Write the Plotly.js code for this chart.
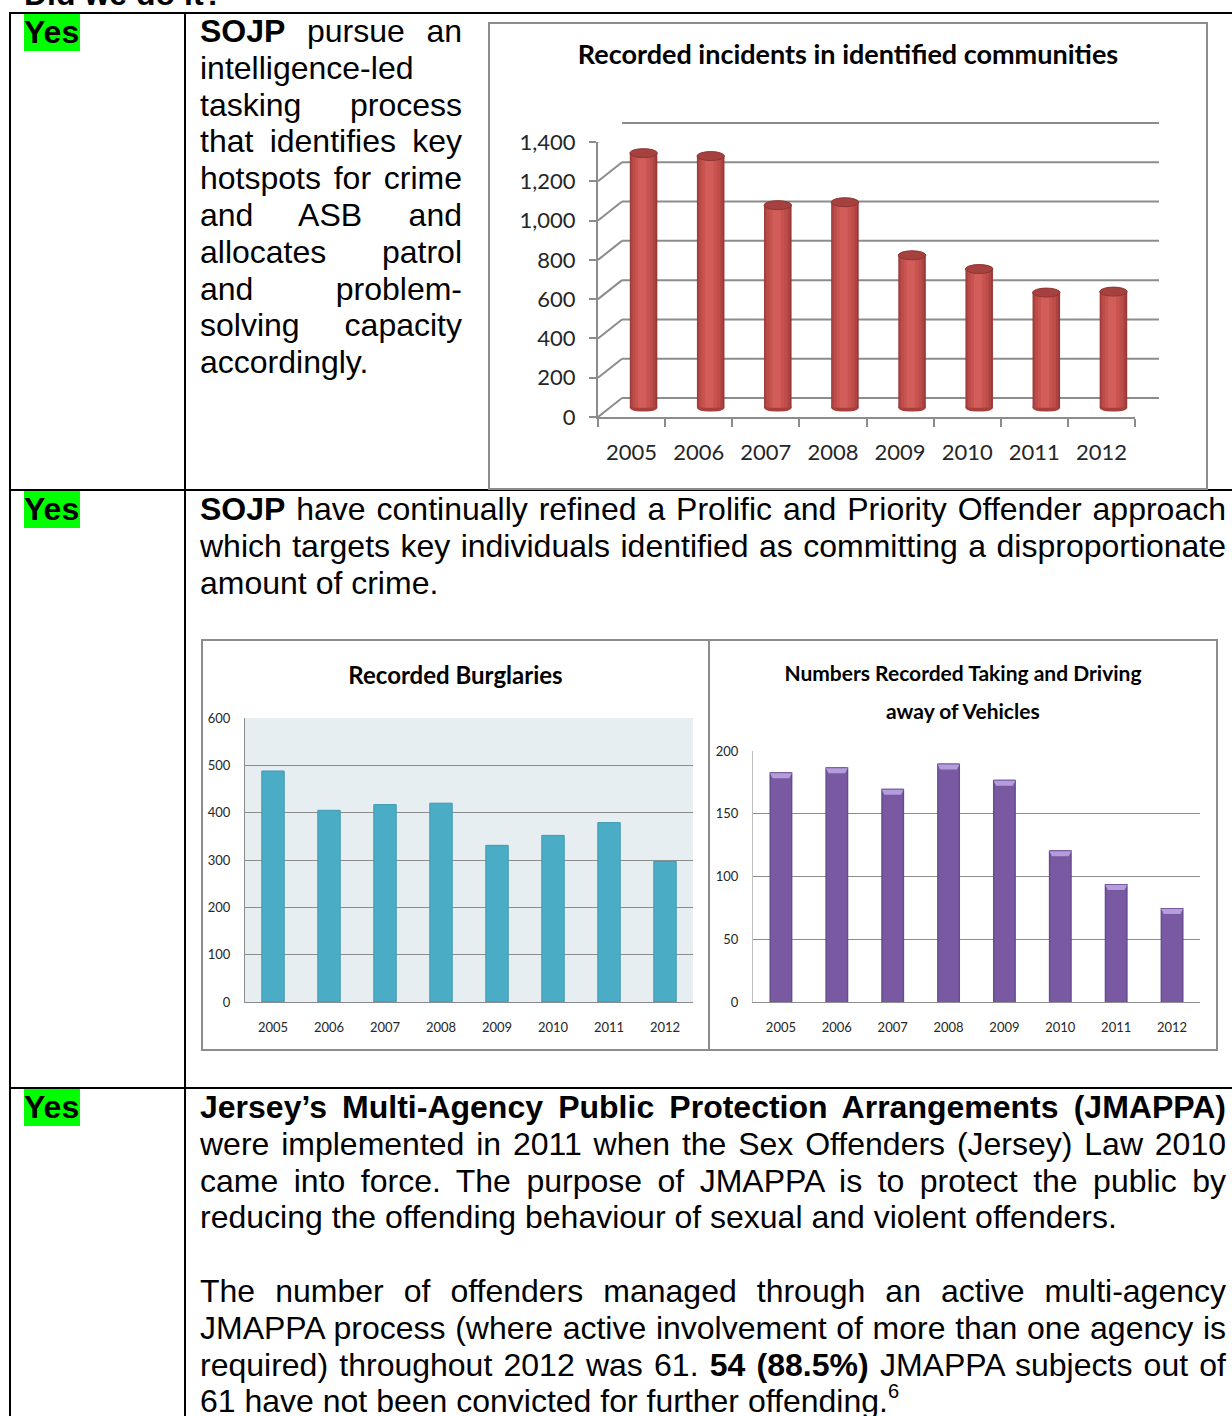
<!DOCTYPE html>
<html>
<head>
<meta charset="utf-8">
<script src="https://cdn.plot.ly/plotly-3.0.1.min.js"></script>
<style>
html,body{margin:0;padding:0;background:#fff;}
body{width:1232px;height:1416px;position:relative;overflow:hidden;font-family:"Liberation Sans",Arial,sans-serif;color:#000;}
.rule{position:absolute;background:#000;}
.txt{position:absolute;font-size:32px;line-height:36.8px;}
.txt div{height:36.8px;white-space:nowrap;}
.txt div.j{text-align:justify;text-align-last:justify;}
.yes{position:absolute;left:24px;font-weight:bold;font-size:32px;line-height:37px;background:#00ff00;padding-right:1px;}
.frame{position:absolute;border:2px solid #8c8c8c;box-sizing:border-box;pointer-events:none;z-index:5;}
.chart{position:absolute;}
sup{font-size:20px;line-height:0;vertical-align:14px;}
</style>
</head>
<body>
<div class="txt" style="left:24px;top:-24.5px;font-weight:bold;">Did we do it?</div>

<div class="rule" style="left:9px;top:12px;width:1223px;height:2px;"></div>
<div class="rule" style="left:9px;top:12px;width:2px;height:1404px;"></div>
<div class="rule" style="left:184px;top:12px;width:2px;height:1404px;"></div>
<div class="rule" style="left:9px;top:489px;width:1223px;height:2px;"></div>
<div class="rule" style="left:9px;top:1087px;width:1223px;height:2px;"></div>

<div class="yes" style="top:14px;">Yes</div>
<div class="yes" style="top:491px;">Yes</div>
<div class="yes" style="top:1089px;">Yes</div>

<div class="txt" style="left:200px;top:13px;width:262px;">
<div class="j"><b>SOJP</b> pursue an</div>
<div class="j">intelligence-led</div>
<div class="j">tasking process</div>
<div class="j">that identifies key</div>
<div class="j">hotspots for crime</div>
<div class="j">and ASB and</div>
<div class="j">allocates patrol</div>
<div class="j">and problem-</div>
<div class="j">solving capacity</div>
<div>accordingly.</div>
</div>

<div class="txt" style="left:200px;top:491px;width:1026px;">
<div class="j"><b>SOJP</b> have continually refined a Prolific and Priority Offender approach</div>
<div class="j">which targets key individuals identified as committing a disproportionate</div>
<div>amount of crime.</div>
</div>

<div class="txt" style="left:200px;top:1089px;width:1026px;">
<div class="j"><b>Jersey’s Multi-Agency Public Protection Arrangements (JMAPPA)</b></div>
<div class="j">were implemented in 2011 when the Sex Offenders (Jersey) Law 2010</div>
<div class="j">came into force. The purpose of JMAPPA is to protect the public by</div>
<div>reducing the offending behaviour of sexual and violent offenders.</div>
<div></div>
<div class="j">The number of offenders managed through an active multi-agency</div>
<div class="j">JMAPPA process (where active involvement of more than one agency is</div>
<div class="j">required) throughout 2012 was 61. <b>54 (88.5%)</b> JMAPPA subjects out of</div>
<div>61 have not been convicted for further offending.<sup>6</sup></div>
</div>

<div id="c1" class="chart" style="left:488px;top:22px;width:720px;height:468px;"></div>
<div class="frame" style="left:488px;top:22px;width:720px;height:468px;"></div>
<div id="c2" class="chart" style="left:201px;top:639px;width:509px;height:412px;"></div>
<div class="frame" style="left:201px;top:639px;width:509px;height:412px;"></div>
<div id="c3" class="chart" style="left:708px;top:639px;width:510px;height:412px;"></div>
<div class="frame" style="left:708px;top:639px;width:510px;height:412px;"></div>

<script>
// ---------------- DATA ----------------
const years = [2005, 2006, 2007, 2008, 2009, 2010, 2011, 2012];
const yearLabels = ['2005', '2006', '2007', '2008', '2009', '2010', '2011', '2012'];
const incidents = [1295, 1280, 1030, 1045, 775, 705, 585, 590];
const burglaries = [488, 405, 417, 420, 331, 352, 379, 297];
const twoc = [183, 187, 170, 190, 177, 121, 94, 75];
const incidentTicks = [0, 200, 400, 600, 800, 1000, 1200, 1400];
const burglaryTicks = [0, 100, 200, 300, 400, 500, 600];
const twocTicks = [0, 50, 100, 150, 200];
const title1 = 'Recorded incidents in identified communities';
const title2 = 'Recorded Burglaries';
const title3a = 'Numbers Recorded Taking and Driving';
const title3b = 'away of Vehicles';

// ---------------- helpers ----------------
const cfg = {staticPlot: true, displayModeBar: false};
const xr = [years[0] - 0.5, years[years.length - 1] + 0.5];
const bounds = years.map(y => y - 0.5).concat([years[years.length - 1] + 0.5]);
function xd(W, a, b) { return [a / W, b / W]; }
function yd(H, top, bottom) { return [(H - bottom) / H, (H - top) / H]; }
const FONT = 'Lato, "Open Sans", sans-serif';
const GRID = '#8c8c8c';

// ---------------- Chart 1 (3-D cylinders) ----------------
(function () {
  const W = 720, H = 468;
  const L = 110, R = 647, T = 120, B = 395;   // front plane (px inside chart)
  const DX = 24, DY = 19;                       // depth of the back wall
  const MX = DX / 2, MY = DY / 2;               // plane of the cylinders
  const P = 4;                                  // padding so edge gridlines are not clipped
  const bw = 0.41;
  const yMax = incidentTicks[incidentTicks.length - 1];
  const pxPerUnit = (B - T) / yMax;
  const padU = P / pxPerUnit;
  const shades = [
    {w: bw, c: '#983835', o: 0},
    {w: 0.37, c: '#ad4441', o: -0.005},
    {w: 0.31, c: '#bd4d4a', o: -0.01},
    {w: 0.22, c: '#c9534f', o: -0.015},
    {w: 0.12, c: '#d25e5a', o: -0.02}
  ];
  const traces = [
    {type: 'scatter', x: [], y: [], xaxis: 'x', yaxis: 'y', hoverinfo: 'skip'},
    {type: 'scatter', x: [], y: [], xaxis: 'x3', yaxis: 'y3', hoverinfo: 'skip'}
  ];
  shades.forEach(s => traces.push({
    type: 'bar', x: years, y: incidents, width: s.w, offset: -s.w / 2 + s.o,
    marker: {color: s.c, line: {width: 0}}, xaxis: 'x2', yaxis: 'y2', hoverinfo: 'skip'
  }));
  const shapes = [];
  incidents.forEach((v, i) => {
    shapes.push({type: 'circle', xref: 'x2', yref: 'y2', x0: years[i] - bw / 2, x1: years[i] + bw / 2,
      ysizemode: 'pixel', yanchor: 0, y0: -4.5, y1: 4.5, fillcolor: '#a7403d', line: {width: 0}, layer: 'below'});
    shapes.push({type: 'circle', xref: 'x2', yref: 'y2', x0: years[i] - bw / 2, x1: years[i] + bw / 2,
      ysizemode: 'pixel', yanchor: v, y0: -4.5, y1: 4.5, fillcolor: '#a5413e', line: {color: '#903431', width: 1}, layer: 'above'});
  });
  // back-wall gridlines and the floor's back edge
  incidentTicks.forEach(v => shapes.push({type: 'line', xref: 'x', yref: 'y', x0: xr[0], x1: xr[1], y0: v, y1: v,
    line: {color: GRID, width: 2}, layer: 'below'}));
  // depth connectors from the front axis to the back wall
  incidentTicks.forEach(v => shapes.push({type: 'line', xref: 'x3', yref: 'y3',
    xsizemode: 'pixel', xanchor: xr[0], x0: 0, x1: DX, ysizemode: 'pixel', yanchor: v, y0: 0, y1: DY,
    line: {color: GRID, width: 2}, layer: 'above'}));
  shapes.push({type: 'line', xref: 'x3', yref: 'y3', xsizemode: 'pixel', xanchor: xr[1], x0: 0, x1: DX,
    ysizemode: 'pixel', yanchor: 0, y0: 0, y1: DY, line: {color: GRID, width: 2}, layer: 'above'});

  const hidden = {showgrid: false, zeroline: false, showticklabels: false, ticks: '', showline: false, fixedrange: true};
  const layout = {
    width: W, height: H, margin: {l: 0, r: 0, t: 0, b: 0},
    paper_bgcolor: '#ffffff', plot_bgcolor: 'rgba(0,0,0,0)', showlegend: false, barmode: 'overlay',
    font: {family: FONT, color: '#262626'},
    title: {text: '<b>' + title1 + '</b>', font: {family: FONT, size: 27, color: '#000'},
      x: 0.5, xref: 'container', xanchor: 'center', y: 1 - 33 / H, yref: 'container', yanchor: 'middle'},
    xaxis: Object.assign({}, hidden, {domain: xd(W, L + DX, R + DX), range: xr, anchor: 'y'}),
    yaxis: Object.assign({}, hidden, {domain: yd(H, T - DY - P, B - DY + P), range: [-padU, yMax + padU], anchor: 'x'}),
    xaxis2: Object.assign({}, hidden, {domain: xd(W, L + MX, R + MX), range: xr, anchor: 'y2'}),
    yaxis2: Object.assign({}, hidden, {domain: yd(H, T - MY - P, B - MY + P), range: [-padU, yMax + padU], anchor: 'x2'}),
    xaxis3: {domain: xd(W, L, R), range: xr, anchor: 'y3', tickmode: 'array', tickvals: years, ticktext: yearLabels,
      ticks: '', showline: true, linecolor: GRID, linewidth: 2, showgrid: false, zeroline: false,
      tickfont: {family: FONT, size: 22, color: '#262626'}, ticklabelstandoff: 15,
      minor: {tickmode: 'array', tickvals: bounds, ticks: 'outside', ticklen: 8, tickwidth: 2, tickcolor: GRID, showgrid: false}},
    yaxis3: {domain: yd(H, T, B), range: [0, yMax], anchor: 'x3', tickmode: 'array', tickvals: incidentTicks,
      tickformat: ',d', ticks: 'outside', ticklen: 7, tickwidth: 2, tickcolor: GRID, showline: true, linecolor: GRID,
      linewidth: 2, showgrid: false, zeroline: false, tickfont: {family: FONT, size: 22, color: '#262626'}, ticklabelstandoff: 9},
    shapes: shapes
  };
  Plotly.newPlot('c1', traces, layout, cfg);
})();

// ---------------- Chart 2 (burglaries) ----------------
(function () {
  const W = 509, H = 412;
  const L = 44, R = 492, T = 79, B = 363;
  const traces = [{type: 'bar', x: years, y: burglaries, width: 0.4,
    marker: {color: '#4bacc6', line: {color: '#3f99b2', width: 1}}, hoverinfo: 'skip'}];
  const layout = {
    width: W, height: H, margin: {l: 0, r: 0, t: 0, b: 0},
    paper_bgcolor: '#ffffff', plot_bgcolor: '#e7eef2', showlegend: false,
    font: {family: FONT, color: '#262626'},
    title: {text: '<b>' + title2 + '</b>', font: {family: FONT, size: 24, color: '#000'},
      x: 0.5, xref: 'container', xanchor: 'center', y: 1 - 37 / H, yref: 'container', yanchor: 'middle'},
    xaxis: {domain: xd(W, L, R), range: xr, tickmode: 'array', tickvals: years, ticktext: yearLabels, ticks: '',
      showline: true, linecolor: GRID, linewidth: 1, showgrid: false, zeroline: false,
      tickfont: {family: FONT, size: 13, color: '#262626'}, ticklabelstandoff: 13},
    yaxis: {domain: yd(H, T, B), range: [0, 600], tickmode: 'array', tickvals: burglaryTicks, ticks: '',
      showline: true, linecolor: GRID, linewidth: 1, showgrid: true, gridcolor: GRID, gridwidth: 1, zeroline: false,
      tickfont: {family: FONT, size: 13, color: '#262626'}, ticklabelstandoff: 11}
  };
  Plotly.newPlot('c2', traces, layout, cfg);
})();

// ---------------- Chart 3 (taking and driving away) ----------------
(function () {
  const W = 510, H = 412;
  const L = 45, R = 492, T = 112, B = 363;
  const traces = [
    {type: 'bar', x: years, y: twoc, width: 0.41, marker: {color: '#664c8d', line: {width: 0}}, hoverinfo: 'skip'},
    {type: 'bar', x: years, y: twoc, width: 0.36, marker: {color: '#7959a2', line: {width: 0}}, hoverinfo: 'skip'}
  ];
  const shapes = twoc.map((v, i) => ({type: 'path', xref: 'x', yref: 'y',
    ysizemode: 'pixel', yanchor: v,
    path: 'M' + (years[i] - 0.195) + ',-1 L' + (years[i] + 0.195) + ',-1 L' + (years[i] + 0.15) + ',-6 L' + (years[i] - 0.15) + ',-6 Z',
    fillcolor: '#b49ddb', line: {width: 0}, layer: 'above'}));
  const layout = {
    width: W, height: H, margin: {l: 0, r: 0, t: 0, b: 0},
    paper_bgcolor: '#ffffff', plot_bgcolor: '#ffffff', showlegend: false, barmode: 'overlay',
    font: {family: FONT, color: '#262626'},
    title: {text: '<b>' + title3a + '</b>', font: {family: FONT, size: 21, color: '#000'},
      x: 0.5, xref: 'container', xanchor: 'center', y: 1 - 35 / H, yref: 'container', yanchor: 'middle'},
    annotations: [{text: '<b>' + title3b + '</b>', font: {family: FONT, size: 21, color: '#000'},
      x: 0.5, xref: 'paper', xanchor: 'center', y: 1 - 71 / H, yref: 'paper', yanchor: 'middle', showarrow: false}],
    xaxis: {domain: xd(W, L, R), range: xr, tickmode: 'array', tickvals: years, ticktext: yearLabels, ticks: '',
      showline: true, linecolor: GRID, linewidth: 1, showgrid: false, zeroline: false,
      tickfont: {family: FONT, size: 13, color: '#262626'}, ticklabelstandoff: 13},
    yaxis: {domain: yd(H, T, B), range: [0, 200], tickmode: 'array', tickvals: twocTicks, ticks: '',
      showline: true, linecolor: '#bfbfbf', linewidth: 1, showgrid: true, gridcolor: GRID, gridwidth: 1, zeroline: false,
      tickfont: {family: FONT, size: 13, color: '#262626'}, ticklabelstandoff: 11},
    shapes: shapes
  };
  Plotly.newPlot('c3', traces, layout, cfg);
})();
</script>
</body>
</html>
